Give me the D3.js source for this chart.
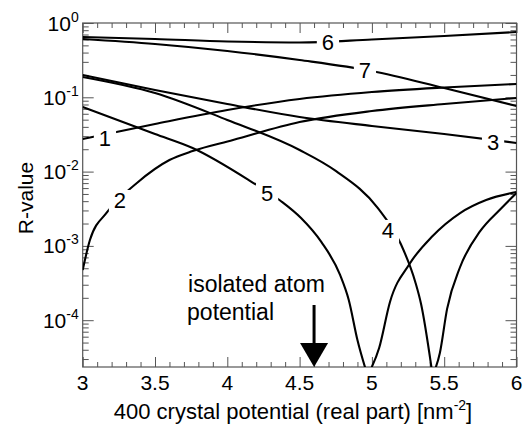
<!DOCTYPE html>
<html>
<head>
<meta charset="utf-8">
<title>R-value vs 400 crystal potential</title>
<script src="https://cdn.jsdelivr.net/npm/d3@7"></script>
<style>
	body { margin: 0; background: #fff; }
	svg { font-family: "Liberation Sans", Arial, sans-serif; }
</style>
</head>
<body>
<div id="chart"></div>
<script>
(function(){
	"use strict";

	// crystal potential (real part) [nm^-2] and R-value, one pair per curve
	var x1 = [3, 3.5, 4, 4.5, 5, 5.5, 6];
	var r1 = [0.0275, 0.0437, 0.0675, 0.0949, 0.1178, 0.1355, 0.151];

	var x2 = [3, 3.05, 3.17, 3.375, 3.6, 3.76, 4.04, 4.5, 5, 5.5, 6];
	var r2 = [4.73e-4, 1.2e-3, 2.86e-3, 7.03e-3, 0.0143, 0.0189, 0.0266, 0.0465, 0.0654, 0.0813, 0.0979];

	var x3 = [3, 3.5, 4, 4.5, 5, 5.5, 6];
	var r3 = [0.1995, 0.1254, 0.0813, 0.0543, 0.0411, 0.0321, 0.0243];

	// curves 4 and 5 dip to a sharp minimum, so each has two branches
	var x4a = [3, 3.5, 4, 4.5, 4.75, 5.04, 5.2, 5.3, 5.34, 5.42];
	var r4a = [0.1876, 0.1142, 0.0495, 0.0195, 0.0102, 3.24e-3, 1.06e-3, 3.27e-4, 1.65e-4, 1.8e-5];
	var x4b = [5.42, 5.47, 5.52, 5.61, 5.75, 5.89, 6];
	var r4b = [1.8e-5, 3.62e-5, 1.42e-4, 5.2e-4, 1.59e-3, 3.14e-3, 5.15e-3];

	var x5a = [3, 3.5, 3.76, 4.17, 4.37, 4.51, 4.65, 4.78, 4.84, 4.9, 4.97];
	var r5a = [0.074, 0.0321, 0.0208, 7.24e-3, 4.02e-3, 2.37e-3, 1.13e-3, 4.06e-4, 1.87e-4, 5.41e-5, 1.8e-5];
	var x5b = [4.97, 5.05, 5.125, 5.26, 5.42, 5.61, 5.79, 6];
	var r5b = [1.8e-5, 4.22e-5, 1.76e-4, 5.71e-4, 1.36e-3, 2.77e-3, 4.15e-3, 5.31e-3];

	var x6 = [3, 3.5, 4, 4.5, 5, 5.5, 6];
	var r6 = [0.648, 0.609, 0.564, 0.547, 0.600, 0.668, 0.757];

	var x7 = [3, 3.5, 4, 4.5, 5, 5.5, 6];
	var r7 = [0.609, 0.522, 0.420, 0.318, 0.226, 0.133, 0.0764];

	// curve number labels, placed on the curves (data coordinates)
	var labelText = ["1", "2", "3", "4", "5", "6", "7"];
	var labelX = [3.154, 3.258, 5.838, 5.111, 4.275, 4.696, 4.952];
	var labelR = [0.0283, 4.15e-3, 0.025, 1.64e-3, 5.15e-3, 0.555, 0.233];

	// tick labels
	var xTicks = [3, 3.5, 4, 4.5, 5, 5.5, 6];
	var yExponents = [0, -1, -2, -3, -4];
	var arrowX = 4.6; // isolated atom potential

	var margin = { top: 23, right: 8.5, bottom: 58, left: 82.7 };
	var width = 525 - margin.left - margin.right;
	var height = 425 - margin.top - margin.bottom;

	var x = d3.scaleLinear().domain([3, 6]).range([0, width]);
	var y = d3.scaleLog().domain([Math.pow(10, -4.63), 1]).range([height, 0]);

	var svg = d3.select("#chart").append("svg")
		.attr("width", 525)
		.attr("height", 425);
	var g = svg.append("g")
		.attr("transform", "translate(" + margin.left + "," + margin.top + ")");

	// ticks
	var xMinor = d3.range(30, 61).map(function(d){ return d / 10; })
		.filter(function(d){ return Math.round(d * 10) % 5 !== 0; });
	var yMajor = yExponents.map(function(e){ return Math.pow(10, e); });
	var yMinor = [];
	[-5, -4, -3, -2, -1].forEach(function(e){
		for (var k = 2; k <= 9; k++) {
			var v = k * Math.pow(10, e);
			if (v >= y.domain()[0] && v <= 1) yMinor.push(v);
		}
	});

	function addAxis(axis, tx, ty) {
		var a = g.append("g").attr("transform", "translate(" + tx + "," + ty + ")").call(axis);
		a.select(".domain").remove();
		a.selectAll("line").style("stroke", "#555").style("stroke-width", 1);
		return a;
	}
	addAxis(d3.axisBottom(x).tickValues(xTicks).tickSize(-10).tickFormat(""), 0, height);
	addAxis(d3.axisBottom(x).tickValues(xMinor).tickSize(-5).tickFormat(""), 0, height);
	addAxis(d3.axisTop(x).tickValues(xTicks).tickSize(-10).tickFormat(""), 0, 0);
	addAxis(d3.axisTop(x).tickValues(xMinor).tickSize(-5).tickFormat(""), 0, 0);
	addAxis(d3.axisLeft(y).tickValues(yMajor).tickSize(-11).tickFormat(""), 0, 0);
	addAxis(d3.axisLeft(y).tickValues(yMinor).tickSize(-6).tickFormat(""), 0, 0);
	addAxis(d3.axisRight(y).tickValues(yMajor).tickSize(-11).tickFormat(""), width, 0);
	addAxis(d3.axisRight(y).tickValues(yMinor).tickSize(-6).tickFormat(""), width, 0);

	g.append("rect")
		.attr("width", width)
		.attr("height", height)
		.style("fill", "none")
		.style("stroke", "#555")
		.style("stroke-width", 1.2);

	// tick labels
	g.selectAll(".xlab").data(xTicks).enter().append("text")
		.attr("x", function(d){ return x(d); })
		.attr("y", height + 23)
		.attr("text-anchor", "middle")
		.style("font-size", "21px")
		.text(function(d){ return String(d); });

	var ylab = g.selectAll(".ylab").data(yExponents).enter().append("text")
		.attr("x", -4)
		.attr("y", function(d){ return y(Math.pow(10, d)) + 7.5; })
		.attr("text-anchor", "end")
		.style("font-size", "21px");
	ylab.append("tspan").text("10");
	ylab.append("tspan").attr("dy", -9).style("font-size", "14px").text(function(d){ return String(d); });

	// axis titles
	var xt = g.append("text")
		.attr("x", 293 - margin.left)
		.attr("y", height + 52)
		.attr("text-anchor", "middle")
		.style("font-size", "22px");
	xt.append("tspan").text("400 crystal potential (real part) [nm");
	xt.append("tspan").attr("dy", -9).style("font-size", "14px").text("-2");
	xt.append("tspan").attr("dy", 9).text("]");

	svg.append("text")
		.attr("transform", "translate(33,198) rotate(-90)")
		.attr("text-anchor", "middle")
		.style("font-size", "21px")
		.text("R-value");

	// curves
	g.append("clipPath").attr("id", "plotclip")
		.append("rect").attr("width", width).attr("height", height);

	var line = d3.line()
		.x(function(d){ return x(d[0]); })
		.y(function(d){ return y(d[1]); })
		.curve(d3.curveMonotoneX);

	var curves = [[x1, r1], [x2, r2], [x3, r3], [x4a, r4a], [x4b, r4b], [x5a, r5a], [x5b, r5b], [x6, r6], [x7, r7]];
	g.append("g").attr("clip-path", "url(#plotclip)")
		.selectAll("path").data(curves).enter().append("path")
		.attr("d", function(c){ return line(d3.zip(c[0], c[1])); })
		.style("fill", "none")
		.style("stroke", "#000")
		.style("stroke-width", 2.1);

	// curve labels with a white gap in the line
	var labels = g.selectAll(".clab").data(labelText).enter().append("g");
	labels.append("rect");
	labels.append("text")
		.attr("x", function(d, i){ return x(labelX[i]); })
		.attr("y", function(d, i){ return y(labelR[i]) + 8; })
		.attr("text-anchor", "middle")
		.style("font-size", "22px")
		.text(function(d){ return d; });
	labels.each(function(){
		var gr = d3.select(this);
		var b = gr.select("text").node().getBBox();
		gr.select("rect")
			.attr("x", b.x - 5).attr("y", b.y + 2)
			.attr("width", b.width + 10).attr("height", b.height - 2)
			.style("fill", "#fff");
	});

	// isolated atom potential annotation
	var ax = x(arrowX);
	g.append("text").attr("x", ax - 126).attr("y", height - 75).style("font-size", "23px").text("isolated atom");
	g.append("text").attr("x", ax - 127).attr("y", height - 47).style("font-size", "23px").text("potential");
	g.append("line")
		.attr("x1", ax).attr("x2", ax)
		.attr("y1", height - 62).attr("y2", height - 22)
		.style("stroke", "#000")
		.style("stroke-width", 3);
	g.append("path")
		.attr("d", "M" + (ax - 14) + "," + (height - 24) + "L" + (ax + 14) + "," + (height - 24) + "L" + ax + "," + height + "Z")
		.style("fill", "#000");

})();
</script>
</body>
</html>
